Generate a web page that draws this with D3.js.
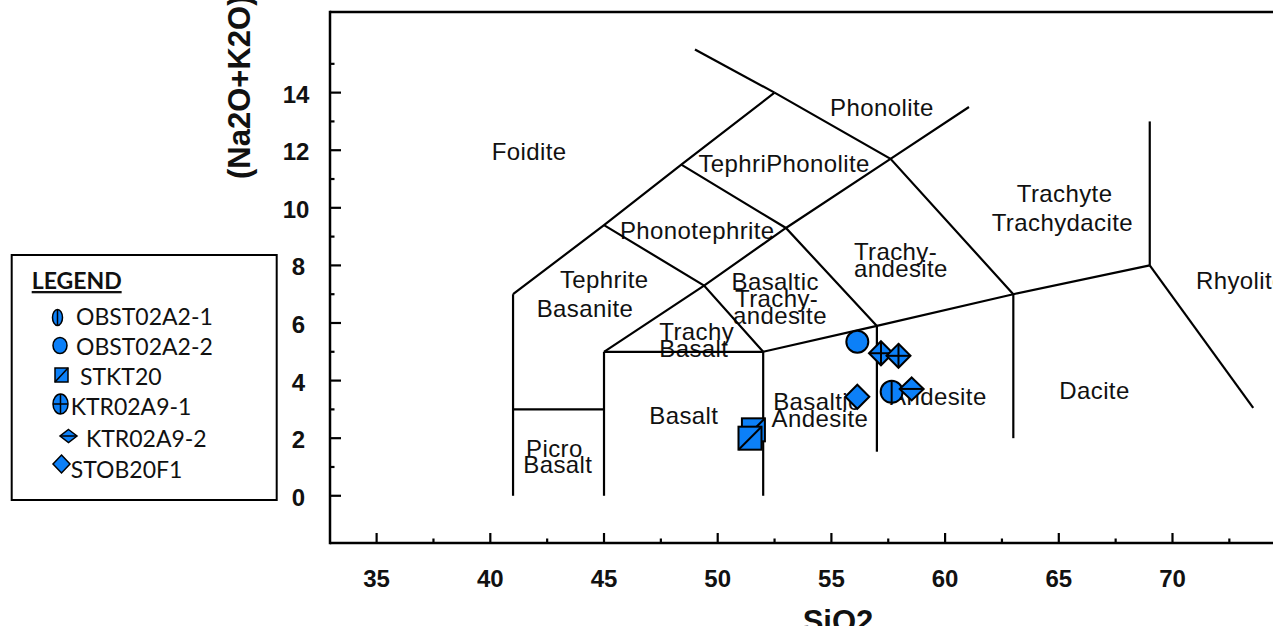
<!DOCTYPE html>
<html>
<head>
<meta charset="utf-8">
<script src="https://cdn.jsdelivr.net/npm/d3@7/dist/d3.min.js"></script>
<style>
  html, body { margin: 0; padding: 0; background: #fff; }
  svg { display: block; }
  .field-label { font-family: "Liberation Sans", Arial, sans-serif; font-size: 24px; letter-spacing: 0.4px; fill: #111; }
  .tick-label { font-family: "Liberation Sans", Arial, sans-serif; font-size: 24px; font-weight: bold; fill: #111; }
  .axis-title { font-family: "Liberation Sans", Arial, sans-serif; font-size: 31px; font-weight: bold; fill: #111; }
  .legend-text { font-family: Lato, "Open Sans", sans-serif; font-size: 23px; fill: #111; }
</style>
</head>
<body>
<svg id="chart" width="1283" height="626"></svg>
<script>
// Axis ticks
const xMajorTicks = [35, 40, 45, 50, 55, 60, 65, 70];
const xMinorTicks = [37.5, 42.5, 47.5, 52.5, 57.5, 62.5, 67.5, 72.5];
const yMajorTicks = [0, 2, 4, 6, 8, 10, 12, 14];
const yMinorTicks = [1, 3, 5, 7, 9, 11, 13, 15];

// TAS field boundaries, as [SiO2, Na2O+K2O] polylines
const fieldBoundaries = [
  [[41, 0], [41, 7]],
  [[41, 3], [45, 3]],
  [[45, 0], [45, 5]],
  [[45, 5], [52, 5]],
  [[52, 0], [52, 5]],
  [[52, 5], [57, 5.9], [63, 7], [69, 8]],
  [[57, 5.9], [57, 1.53]],
  [[63, 7], [63, 2]],
  [[69, 8], [69, 13]],
  [[69, 8], [73.55, 3.05]],
  [[41, 7], [45, 9.4], [48.4, 11.5], [52.5, 14]],
  [[52.5, 14], [49, 15.5]],
  [[45, 9.4], [49.4, 7.3], [52, 5]],
  [[45, 5], [49.4, 7.3], [53, 9.3], [57.6, 11.7], [61.05, 13.5]],
  [[48.4, 11.5], [53, 9.3], [57, 5.9]],
  [[52.5, 14], [57.6, 11.7], [63, 7]]
];

// Field names: text, left SiO2, baseline Na2O+K2O
const fieldNames = ["Foidite", "TephriPhonolite", "Phonotephrite", "Phonolite",
  "Trachy-", "andesite", "Trachyte", "Trachydacite", "Rhyolite", "Dacite",
  "Tephrite", "Basanite", "Trachy", "Basalt", "Basalt", "Picro", "Basalt",
  "Basaltic", "Trachy-", "andesite", "Basaltic", "Andesite", "Andesite"];
const fieldNameSiO2 = [40.06, 49.15, 45.70, 54.94,
  55.99, 55.99, 63.15, 62.05, 71.03, 65.02,
  43.06, 42.04, 47.43, 47.43, 46.99, 41.57, 41.45,
  50.61, 50.76, 50.67, 52.44, 52.37, 57.58];
const fieldNameAlkali = [11.66, 11.25, 8.91, 13.20,
  8.19, 7.61, 10.21, 9.19, 7.17, 3.35,
  7.20, 6.20, 5.41, 4.83, 2.49, 1.36, 0.80,
  7.15, 6.57, 5.97, 2.98, 2.40, 3.15];

// Samples
const sampleNames = ["OBST02A2-1", "OBST02A2-2", "STKT20", "KTR02A9-1", "KTR02A9-2", "STOB20F1"];
const sampleShapes = ["circleV", "circle", "squareDiag", "diamondCross", "diamondH", "diamond"];
const sampleSiO2 = [[57.65], [56.14], [51.57, 51.42], [57.18, 57.95], [58.53], [56.14]];
const sampleAlkali = [[3.61], [5.35], [2.29, 2.00], [4.95, 4.86], [3.71], [3.44]];

const markerFill = "#0c80f8";

const svg = d3.select("#chart");

const x = d3.scaleLinear().domain([32.95, 74.42]).range([330, 1273]);
const y = d3.scaleLinear().domain([-1.64, 16.8]).range([543, 12]);

svg.append("defs").append("clipPath").attr("id", "plot-clip")
  .append("rect").attr("x", 330).attr("y", 0).attr("width", 943).attr("height", 560);

const plot = svg.append("g").attr("clip-path", "url(#plot-clip)");

// Field names
plot.append("g").selectAll("text").data(fieldNames).join("text")
  .attr("class", "field-label")
  .attr("x", (d, i) => x(fieldNameSiO2[i]))
  .attr("y", (d, i) => y(fieldNameAlkali[i]))
  .text(d => d);

// Field boundaries
const line = d3.line().x(d => x(d[0])).y(d => y(d[1]));
plot.append("g").selectAll("path").data(fieldBoundaries).join("path")
  .attr("d", line)
  .attr("fill", "none")
  .attr("stroke", "#000")
  .attr("stroke-width", 2.2)
  .attr("stroke-linejoin", "miter");

// Marker drawing
function drawMarker(g, shape, s) {
  const st = { fill: markerFill, stroke: "#000", "stroke-width": 2 };
  const apply = sel => { Object.entries(st).forEach(([k, v]) => sel.attr(k, v)); return sel; };
  const seg = (x1, y1, x2, y2) => g.append("line").attr("x1", x1).attr("y1", y1)
    .attr("x2", x2).attr("y2", y2).attr("stroke", "#000").attr("stroke-width", 2);
  if (shape === "circle" || shape === "circleV") {
    apply(g.append("ellipse").attr("rx", s.rx).attr("ry", s.ry));
    if (shape === "circleV") seg(0, -s.ry, 0, s.ry);
  } else if (shape === "squareDiag") {
    apply(g.append("rect").attr("x", -s.rx).attr("y", -s.ry).attr("width", 2 * s.rx).attr("height", 2 * s.ry));
    seg(-s.rx, s.ry, s.rx, -s.ry);
  } else if (shape === "crossRound") {
    apply(g.append("ellipse").attr("rx", s.rx).attr("ry", s.ry));
    seg(0, -s.ry, 0, s.ry);
    seg(-s.rx, 0, s.rx, 0);
  } else {
    apply(g.append("path").attr("d", `M0,${-s.ry}L${s.rx},0L0,${s.ry}L${-s.rx},0Z`));
    if (shape === "diamondCross") { seg(0, -s.ry, 0, s.ry); seg(-s.rx, 0, s.rx, 0); }
    if (shape === "diamondH") seg(-s.rx, 0, s.rx, 0);
  }
}

const chartSizes = {
  circle: { rx: 11, ry: 11 }, circleV: { rx: 11, ry: 11 },
  squareDiag: { rx: 11.5, ry: 11.5 }, diamondCross: { rx: 12, ry: 12 },
  diamondH: { rx: 12, ry: 11.5 }, diamond: { rx: 12, ry: 12 }
};

const points = [];
sampleNames.forEach((name, i) => {
  sampleSiO2[i].forEach((si, j) => points.push({ name, shape: sampleShapes[i], si, alk: sampleAlkali[i][j] }));
});

const markers = plot.append("g");
points.forEach(p => {
  const g = markers.append("g").attr("transform", `translate(${x(p.si)},${y(p.alk)})`);
  drawMarker(g, p.shape, chartSizes[p.shape]);
});

// Axes
const axes = svg.append("g").attr("stroke", "#000");
axes.append("line").attr("x1", 330).attr("x2", 1273).attr("y1", y(-1.64)).attr("y2", y(-1.64)).attr("stroke-width", 2.5);
axes.append("line").attr("x1", 330).attr("x2", 1273).attr("y1", y(16.8)).attr("y2", y(16.8)).attr("stroke-width", 2.5);
axes.append("line").attr("x1", 330).attr("x2", 330).attr("y1", y(16.8) - 1.2).attr("y2", y(-1.64) + 1.2).attr("stroke-width", 2.5);

const yb = y(-1.64);
axes.selectAll(".xmaj").data(xMajorTicks).join("line").attr("class", "xmaj")
  .attr("x1", d => x(d)).attr("x2", d => x(d)).attr("y1", yb).attr("y2", yb - 10).attr("stroke-width", 2.2);
axes.selectAll(".xmin").data(xMinorTicks).join("line").attr("class", "xmin")
  .attr("x1", d => x(d)).attr("x2", d => x(d)).attr("y1", yb).attr("y2", yb - 4.5).attr("stroke-width", 2.2);
axes.selectAll(".ymaj").data(yMajorTicks).join("line").attr("class", "ymaj")
  .attr("x1", 330).attr("x2", 341).attr("y1", d => y(d)).attr("y2", d => y(d)).attr("stroke-width", 2.2);
axes.selectAll(".ymin").data(yMinorTicks).join("line").attr("class", "ymin")
  .attr("x1", 330).attr("x2", 334.5).attr("y1", d => y(d)).attr("y2", d => y(d)).attr("stroke-width", 2.2);

svg.append("g").selectAll("text").data(xMajorTicks).join("text")
  .attr("class", "tick-label").attr("text-anchor", "middle")
  .attr("x", d => x(d)).attr("y", 587).text(d => d);
svg.append("g").selectAll("text").data(yMajorTicks).join("text")
  .attr("class", "tick-label").attr("text-anchor", "middle")
  .attr("x", d => d >= 10 ? 296 : 298.5).attr("y", d => y(d) + 10).text(d => d);

// Axis titles
svg.append("text").attr("class", "axis-title").attr("text-anchor", "middle")
  .attr("x", 838).attr("y", 632).text("SiO2");
svg.append("text").attr("class", "axis-title").attr("text-anchor", "start")
  .attr("transform", "translate(250,179) rotate(-90)").text("(Na2O+K2O)");

// Legend
const legend = svg.append("g");
legend.append("rect").attr("x", 11.7).attr("y", 255).attr("width", 265).attr("height", 245)
  .attr("fill", "#fff").attr("stroke", "#000").attr("stroke-width", 2);
legend.append("text").attr("x", 31.7).attr("y", 289).attr("class", "legend-text")
  .attr("font-weight", "bold").attr("font-size", 19).attr("text-decoration", "underline").text("LEGEND");

const legendShapes = ["circleV", "circle", "squareDiag", "crossRound", "diamondH", "diamond"];
const legendIconX = [57.5, 60, 61.5, 60.5, 68.5, 61.5];
const legendIconY = [317.5, 345.5, 375, 404, 436, 464];
const legendIconSize = [{ rx: 5, ry: 8 }, { rx: 7, ry: 8 }, { rx: 6.5, ry: 7 }, { rx: 7.5, ry: 10 }, { rx: 8.5, ry: 6.5 }, { rx: 8.5, ry: 9 }];
const legendTextX = [76, 76, 80, 70.7, 86, 70.7];
const legendTextY = [325, 355, 385, 415, 446.5, 478];

sampleNames.forEach((name, i) => {
  const g = legend.append("g").attr("transform", `translate(${legendIconX[i]},${legendIconY[i]})`);
  drawMarker(g, legendShapes[i], legendIconSize[i]);
  g.selectAll("*").attr("stroke-width", 1.5);
  legend.append("text").attr("class", "legend-text")
    .attr("x", legendTextX[i]).attr("y", legendTextY[i]).text(name);
});
</script>
</body>
</html>
